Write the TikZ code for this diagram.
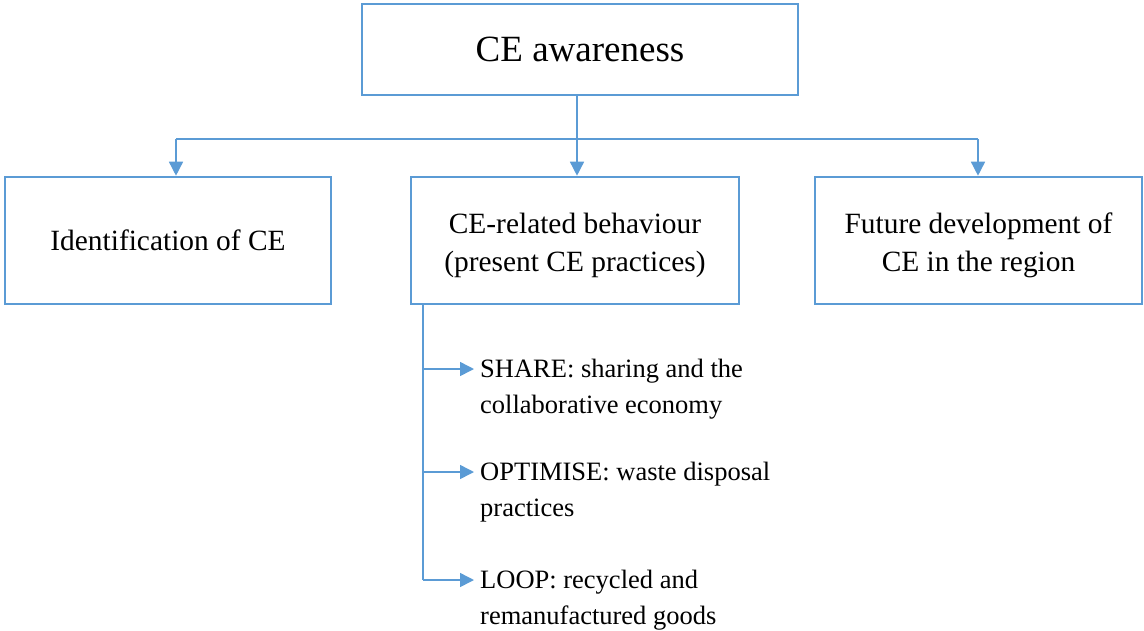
\documentclass[tikz,border=0pt]{standalone}
\usepackage{fontspec}
\setmainfont{Liberation Serif}
\usetikzlibrary{arrows.meta}
\definecolor{boxblue}{HTML}{5B9BD5}
\newcommand{\topstrut}{\rule{0pt}{30pt}}
\begin{document}
\begin{tikzpicture}[x=1pt,y=-1pt,
  box/.style={draw=boxblue,line width=2.6pt,align=center,inner sep=0pt,fill=white,
    font=\fontsize{29.4}{38}\selectfont},
  conn/.style={draw=boxblue,line width=1.5pt},
  arr/.style={conn,-{Triangle[length=14pt,width=14pt]}},
  label/.style={anchor=north west,align=left,inner sep=0pt,
    font=\fontsize{26.5}{36}\selectfont}]
\useasboundingbox (0,0) rectangle (1144,630);
\node[box,minimum width=436pt,minimum height=91pt,font=\fontsize{37}{40}\selectfont] (top) at (580,49.5) {CE awareness};
\node[box,minimum width=326pt,minimum height=127pt] (left) at (168,240.5) {Identification of CE};
\node[box,minimum width=328pt,minimum height=127pt] (mid) at (575,240.5) {\topstrut CE-related behaviour\\(present CE practices)};
\node[box,minimum width=327pt,minimum height=127pt] (right) at (978.5,240.5) {\topstrut Future development of\\CE in the region};
% top connectors
\coordinate (hl) at (176,139);
\coordinate (hr) at (978,139);
\draw[conn] (577,0 |- top.south) -- (577,0 |- hl);
\draw[conn] (hl) -- (hr);
\draw[arr] (hl) -- (hl |- left.north);
\draw[arr] (577,0 |- top.south) -- (577,0 |- mid.north);
\draw[arr] (hr) -- (hr |- right.north);
% branch
\coordinate (b0) at (423,0 |- mid.south);
\coordinate (b1) at (423,369);
\coordinate (b2) at (423,472);
\coordinate (b3) at (423,580);
\coordinate (t1) at (474,369);
\coordinate (t2) at (474,472);
\coordinate (t3) at (474,580);
\draw[conn] (b0) -- (b3);
\draw[arr] (b1) -- (t1);
\draw[arr] (b2) -- (t2);
\draw[arr] (b3) -- (t3);
\node[label] (s1) at (480,359) {SHARE: sharing and the\\collaborative economy};
\node[label] (s2) at (480,462) {OPTIMISE: waste disposal\\practices};
\node[label] (s3) at (480,570) {LOOP: recycled and\\remanufactured goods};
\end{tikzpicture}
\end{document}
